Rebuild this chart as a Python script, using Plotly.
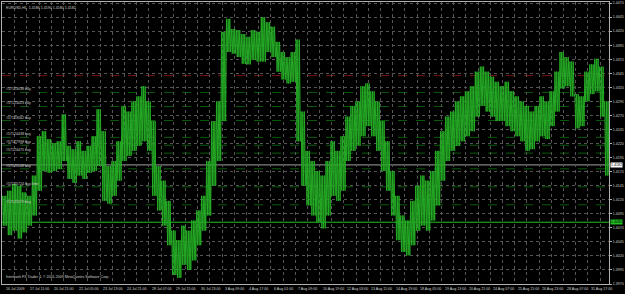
import plotly.graph_objects as go

# ---------------- data ----------------
symbol = "EURUSD,H1"
title_ohlc = ["1.4186", "1.4190", "1.4180", "1.4182"]

# high / low of price per group of hourly bars
col_high = [1.4127, 1.4136, 1.4148, 1.4145, 1.4133, 1.4127, 1.4163, 1.4233, 1.4242, 1.4228,
            1.4221, 1.4224, 1.4272, 1.4216, 1.4210, 1.4224, 1.4207, 1.4216, 1.4233, 1.4281,
            1.4242, 1.4180, 1.4189, 1.4224, 1.4287, 1.4277, 1.4295, 1.4304, 1.4322, 1.4295,
            1.4260, 1.4180, 1.4154, 1.4118, 1.4065, 1.4048, 1.4074, 1.4065, 1.4083, 1.4101,
            1.4127, 1.4189, 1.4260, 1.4295, 1.4419, 1.4442, 1.4424, 1.4422, 1.4415, 1.4410,
            1.4422, 1.4419, 1.4445, 1.4436, 1.4428, 1.4401, 1.4383, 1.4374, 1.4383, 1.4405,
            1.4277, 1.4207, 1.4189, 1.4171, 1.4163, 1.4189, 1.4224, 1.4207, 1.4233, 1.4268,
            1.4287, 1.4295, 1.4322, 1.4327, 1.4313, 1.4295, 1.4260, 1.4224, 1.4171, 1.4127,
            1.4092, 1.4083, 1.4118, 1.4145, 1.4163, 1.4154, 1.4171, 1.4207, 1.4242, 1.4268,
            1.4277, 1.4295, 1.4304, 1.4313, 1.4322, 1.4348, 1.4357, 1.4348, 1.4339, 1.4330,
            1.4322, 1.4330, 1.4313, 1.4304, 1.4295, 1.4287, 1.4277, 1.4287, 1.4304, 1.4295,
            1.4313, 1.4348, 1.4383, 1.4374, 1.4366, 1.4308, 1.4304, 1.4348, 1.4361, 1.4371,
            1.4357, 1.4295]
col_low = [1.4074, 1.4057, 1.4065, 1.4051, 1.4062, 1.4074, 1.4092, 1.4136, 1.4171, 1.4168,
           1.4171, 1.4175, 1.4189, 1.4157, 1.4150, 1.4163, 1.4157, 1.4168, 1.4171, 1.4180,
           1.4118, 1.4113, 1.4127, 1.4154, 1.4189, 1.4198, 1.4207, 1.4216, 1.4224, 1.4207,
           1.4127, 1.4101, 1.4074, 1.4039, 1.3986, 1.3981, 1.4004, 1.3995, 1.4012, 1.4039,
           1.4065, 1.4092, 1.4145, 1.4189, 1.4260, 1.4383, 1.4380, 1.4374, 1.4362, 1.4361,
           1.4369, 1.4366, 1.4366, 1.4383, 1.4374, 1.4348, 1.4334, 1.4327, 1.4330, 1.4224,
           1.4145, 1.4110, 1.4092, 1.4080, 1.4069, 1.4092, 1.4127, 1.4118, 1.4136, 1.4189,
           1.4207, 1.4216, 1.4233, 1.4251, 1.4233, 1.4207, 1.4171, 1.4136, 1.4092, 1.4048,
           1.4027, 1.4021, 1.4039, 1.4065, 1.4074, 1.4065, 1.4083, 1.4110, 1.4154, 1.4189,
           1.4207, 1.4216, 1.4224, 1.4233, 1.4242, 1.4268, 1.4287, 1.4277, 1.4268, 1.4260,
           1.4260, 1.4251, 1.4242, 1.4233, 1.4224, 1.4207, 1.4210, 1.4224, 1.4233, 1.4228,
           1.4251, 1.4277, 1.4318, 1.4322, 1.4304, 1.4247, 1.4251, 1.4295, 1.4308, 1.4313,
           1.4268, 1.4163]
bars_per_col = 6.53

time_labels = ["16 Jul 2009", "17 Jul 11:00", "20 Jul 21:00", "22 Jul 05:00", "23 Jul 13:00",
               "24 Jul 21:00", "28 Jul 07:00", "29 Jul 15:00", "30 Jul 23:00", "3 Aug 09:00",
               "4 Aug 17:00", "6 Aug 01:00", "7 Aug 09:00", "10 Aug 19:00", "12 Aug 03:00",
               "13 Aug 11:00", "14 Aug 19:00", "18 Aug 05:00", "19 Aug 13:00", "20 Aug 21:00",
               "24 Aug 07:00", "25 Aug 15:00", "26 Aug 23:00", "28 Aug 07:00", "31 Aug 17:00"]
bars_per_label = 32
bars_per_grid = 16
total_bars = 796

price_ticks = [1.4470, 1.4445, 1.4420, 1.4395, 1.4370, 1.4345, 1.4320, 1.4295, 1.4270, 1.4245,
               1.4220, 1.4195, 1.4170, 1.4145, 1.4120, 1.4095, 1.4070, 1.4045, 1.4020, 1.3995,
               1.3970]
price_tick_text = ["1.4470", "1.4445", "1.4420", "1.4395", "1.4370", "1.4345", "1.4320", "1.4295",
                   "1.4270", "1.4245", "1.4220", "1.4195", "1.4170", "1.4145", "1.4120", "1.4095",
                   "1.4070", "1.4045", "1.4020", "1.3995", "1.3970"]
y_min, y_max = 1.3970, 1.4472

order_labels = ["#57123038 buy", "#57123023 buy", "#57123062 buy", "#57124438 buy", "#57127998 buy",
                "#57124475 buy", "#57125148 buy", "#57125724 buy limit", "#57125579 buy"]
order_prices = [1.4311, 1.4286, 1.4261, 1.4231, 1.4217, 1.4203, 1.4175, 1.4143, 1.4111]
stop_price = 1.4341
bid_price = 1.4182
alert_price = 1.4080
copyright_text = "Interbank FX Trader 4, \u00a9 2001-2009 MetaQuotes Software Corp."

# ---------------- figure ----------------
FONT = "Liberation Sans"
TXT = "#d0d0d0"
FS = 3.6

# each group is drawn as dense up/down strokes between its high and low
xs, ys = [], []
for i, (h, l) in enumerate(zip(col_high, col_low)):
    x0 = i * bars_per_col
    for j in range(3):
        xs += [x0 + bars_per_col * (j / 3), x0 + bars_per_col * (j / 3 + 1 / 6)]
        ys += [h, l]

fig = go.Figure()
fig.add_trace(go.Scatter(x=xs, y=ys, mode="lines",
                         line=dict(color="#24aa24", width=1), hoverinfo="skip"))

shapes = []
for p in order_prices:
    shapes.append(dict(type="line", xref="paper", x0=0, x1=1, yref="y", y0=p, y1=p,
                       line=dict(color="#0a5a0a", width=1, dash="dash"), layer="below"))
shapes.append(dict(type="line", xref="paper", x0=0, x1=1, yref="y", y0=stop_price, y1=stop_price,
                   line=dict(color="#7a1010", width=1, dash="dash"), layer="below"))
shapes.append(dict(type="line", xref="paper", x0=0, x1=1, yref="y", y0=bid_price, y1=bid_price,
                   line=dict(color="#a0a0a0", width=1), layer="below"))
shapes.append(dict(type="line", xref="paper", x0=0, x1=1, yref="y", y0=alert_price, y1=alert_price,
                   line=dict(color="#22c022", width=1), layer="below"))

ann = []
ann.append(dict(text=symbol + "  " + " ".join(title_ohlc), xref="paper", yref="paper",
                x=0.003, y=1, xanchor="left", yanchor="top", yshift=-2, showarrow=False,
                font=dict(family=FONT, size=FS, color=TXT)))
ann.append(dict(text=copyright_text, xref="paper", yref="paper", x=0.003, y=0,
                xanchor="left", yanchor="bottom", yshift=3, showarrow=False,
                font=dict(family=FONT, size=FS, color=TXT)))
for t, p in zip(order_labels, order_prices):
    ann.append(dict(text=t, xref="paper", yref="y", x=0.004, y=p, xanchor="left",
                    yanchor="bottom", yshift=-1, showarrow=False,
                    font=dict(family=FONT, size=FS, color=TXT)))
for k, t in enumerate(time_labels):
    ann.append(dict(text=t, xref="x", yref="paper", x=k * bars_per_label, y=0, xanchor="left",
                    yanchor="top", xshift=1, yshift=-1, showarrow=False,
                    font=dict(family=FONT, size=FS, color=TXT)))
for p, fg, bg in [(bid_price, "#000000", "#ffffff"), (alert_price, "#000000", "#22c022")]:
    ann.append(dict(text="%.4f" % p, xref="paper", yref="y", x=1, y=p, xanchor="left",
                    yanchor="middle", xshift=1, showarrow=False, bgcolor=bg, borderpad=0,
                    font=dict(family=FONT, size=FS, color=fg)))

fig.update_layout(
    width=625, height=294, margin=dict(l=1, r=15, t=1, b=10),
    paper_bgcolor="#000000", plot_bgcolor="#000000", showlegend=False,
    shapes=shapes, annotations=ann,
    xaxis=dict(range=[-0.65, total_bars - 0.3], tickvals=list(range(0, total_bars, bars_per_grid)),
               showticklabels=False, ticks="", showgrid=True, gridcolor="#555555",
               griddash="dot", gridwidth=1, zeroline=False, showline=True,
               linecolor="#b0b0b0", linewidth=1, mirror=True),
    yaxis=dict(range=[y_min, y_max], side="right", tickvals=price_ticks, ticktext=price_tick_text,
               ticks="outside", ticklen=2, tickcolor="#b0b0b0",
               tickfont=dict(family=FONT, size=FS, color=TXT), showgrid=True,
               gridcolor="#555555", griddash="dot", gridwidth=1, zeroline=False,
               showline=True, linecolor="#b0b0b0", linewidth=1, mirror=True),
)
fig.write_html("out.html")
